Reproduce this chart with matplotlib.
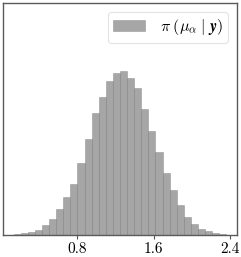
import numpy as np
import matplotlib
matplotlib.use("Agg")
import matplotlib.pyplot as plt

# histogram bin edges (data units) and bar heights (density)
bin_start = 0.133
bin_width = 0.0742
heights = [1, 2, 3, 5, 10, 16, 26, 38, 51, 72, 96, 122, 138, 154, 162,
           164, 157, 147, 126, 104, 83, 62, 45, 30, 18, 11, 6, 4, 2, 1]
heights = np.array(heights, dtype=float)
edges = bin_start + bin_width * np.arange(len(heights) + 1)
centers = 0.5 * (edges[:-1] + edges[1:])
density = heights / (heights.sum() * bin_width)

xticks = [0.8, 1.6, 2.4]
legend_label = r"$\pi\;(\mu_\alpha\;|\;\boldsymbol{y})$"

plt.rcParams['font.family'] = 'serif'
plt.rcParams['font.serif'] = ['cmr10']
plt.rcParams['mathtext.fontset'] = 'cm'
plt.rcParams['axes.formatter.use_mathtext'] = True

fig = plt.figure(figsize=(2.41, 2.57), dpi=100)
ax = fig.add_axes([3/241, 1 - 235/257, 234/241, 232/257])
ax.hist(centers, bins=edges, weights=density, color='gray', alpha=0.7,
        edgecolor='gray', linewidth=0.4, label=legend_label)
ax.set_ylim(0, density.max() * 232 / 164)
ax.set_xticks(xticks)
ax.set_xticklabels([str(t) for t in xticks], fontsize=11)
ax.set_yticks([])
ax.tick_params(axis='x', length=3, width=0.8, color='#555555', pad=2)
for s in ax.spines.values():
    s.set_color('#5a5a5a')
    s.set_linewidth(1.0)
leg = ax.legend(loc='upper right', fontsize=11.5, frameon=True, fancybox=True,
                handlelength=2.0, handletextpad=0.9, borderpad=0.35,
                borderaxespad=0.55)
leg.get_frame().set_edgecolor('#dddddd')
leg.get_frame().set_linewidth(0.8)
fig.savefig('out.png', dpi=100)
